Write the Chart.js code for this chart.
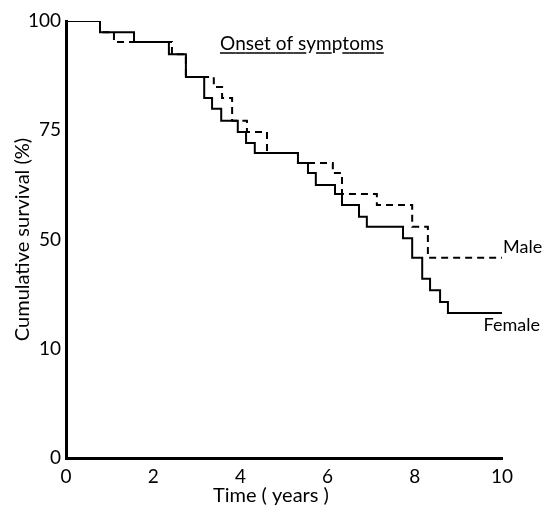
<!DOCTYPE html>
<html>
<head>
<meta charset="utf-8">
<script src="https://cdn.jsdelivr.net/npm/chart.js@4.4.1/dist/chart.umd.min.js"></script>
<style>
  html, body { margin: 0; padding: 0; background: #ffffff; }
  #wrap { width: 544px; height: 507px; }
</style>
</head>
<body>
<div id="wrap"><canvas id="km" width="544" height="507"></canvas></div>
<script>
// Kaplan-Meier steps: time of drop (years) and survival after the drop (%)
const femaleTimes = [0, 0.78, 1.56, 2.36, 2.75, 3.17, 3.35, 3.56, 3.94, 4.13, 4.33, 5.32, 5.55, 5.73, 6.17, 6.33, 6.72, 6.90, 7.73, 7.94, 8.17, 8.35, 8.58, 8.76, 10.05];
const femaleSurv  = [100, 97.4, 95.2, 92.4, 87.2, 82.4, 79.9, 77.2, 74.6, 72.1, 69.8, 67.5, 65.2, 62.5, 60.4, 57.9, 55.2, 52.9, 50.3, 45.8, 41.0, 38.4, 35.7, 33.2, 33.2];

const maleTimes = [0, 0.78, 1.10, 2.43, 2.75, 3.39, 3.58, 3.81, 4.15, 4.61, 5.32, 6.12, 6.33, 7.13, 7.94, 8.30, 10.0];
const maleSurv  = [100, 97.4, 95.2, 92.4, 87.2, 84.9, 82.4, 77.2, 74.6, 69.8, 67.5, 65.2, 60.4, 57.9, 52.9, 45.8, 45.8];

const xTickValues = [0, 2, 4, 6, 8, 10];
const xTickLabels = ['0', '2', '4', '6', '8', '10'];
const yTickValues = [0, 25, 50, 75, 100];
const yTickLabels = ['0', '10', '50', '75', '100'];   // as printed in the figure

const FONT = 'Lato, "DejaVu Sans", sans-serif';

function toPoints(xs, ys) {
    return xs.map((x, i) => ({ x: x, y: ys[i] }));
}

// Title, curve labels and x-axis caption
const annotations = {
    id: 'annotations',
    afterDraw(chart) {
        const ctx = chart.ctx;
        const xs = chart.scales.x;
        const ys = chart.scales.y;
        ctx.save();
        ctx.fillStyle = '#000';
        ctx.strokeStyle = '#000';
        ctx.font = '19px ' + FONT;
        ctx.textBaseline = 'alphabetic';

        // title with underline broken at descenders
        const title = 'Onset of symptoms';
        let tx = 220;
        const ty = 50;
        ctx.textAlign = 'left';
        ctx.lineWidth = 1.5;
        for (const ch of title) {
            const w = ctx.measureText(ch).width;
            ctx.fillText(ch, tx, ty);
            if (!'gjpqy'.includes(ch)) {
                ctx.beginPath();
                ctx.moveTo(tx, ty + 3);
                ctx.lineTo(tx + w, ty + 3);
                ctx.stroke();
            }
            tx += w;
        }

        // curve labels
        const mEnd = maleTimes.length - 1;
        const fEnd = femaleTimes.length - 1;
        ctx.font = '18px ' + FONT;
        ctx.textAlign = 'left';
        ctx.fillText('Male', xs.getPixelForValue(maleTimes[mEnd]) + 1, ys.getPixelForValue(maleSurv[mEnd]) - 5);
        ctx.textAlign = 'right';
        ctx.fillText('Female', 540, ys.getPixelForValue(femaleSurv[fEnd]) + 18);

        // x caption
        ctx.font = '20px ' + FONT;
        ctx.textAlign = 'center';
        ctx.fillText('Time ( years )', xs.getPixelForValue(4.7), 502);
        ctx.restore();
    }
};

const ctx = document.getElementById('km').getContext('2d');
new Chart(ctx, {
    type: 'line',
    data: {
        datasets: [
            {
                label: 'Female',
                data: toPoints(femaleTimes, femaleSurv),
                stepped: true,
                borderColor: '#000',
                borderWidth: 2,
                pointRadius: 0,
                fill: false
            },
            {
                label: 'Male',
                data: toPoints(maleTimes, maleSurv),
                stepped: true,
                borderColor: '#000',
                borderWidth: 2,
                borderDash: [7, 5],
                pointRadius: 0,
                fill: false
            }
        ]
    },
    options: {
        responsive: false,
        animation: false,
        layout: { padding: { top: 21, right: 42, left: 11, bottom: 0 } },
        plugins: {
            legend: { display: false },
            tooltip: { enabled: false }
        },
        scales: {
            x: {
                type: 'linear',
                min: 0,
                max: 10,
                afterBuildTicks: scale => { scale.ticks = xTickValues.map(v => ({ value: v })); },
                afterFit: scale => { scale.height = 49; },
                grid: { display: false, drawOnChartArea: false, drawTicks: true, tickLength: 5, color: '#000', lineWidth: 2 },
                border: { display: true, color: '#000', width: 3 },
                ticks: {
                    color: '#000',
                    font: { family: FONT, size: 19 },
                    padding: 2,
                    maxRotation: 0,
                    callback: (v) => xTickLabels[xTickValues.indexOf(v)]
                }
            },
            y: {
                type: 'linear',
                min: 0,
                max: 100,
                afterBuildTicks: scale => { scale.ticks = yTickValues.map(v => ({ value: v })); },
                afterFit: scale => { scale.width = 55; },
                grid: { display: false, drawOnChartArea: false, drawTicks: true, tickLength: 4, color: '#000', lineWidth: 2 },
                border: { display: true, color: '#000', width: 3 },
                title: {
                    display: true,
                    text: 'Cumulative survival (%)',
                    color: '#000',
                    font: { family: FONT, size: 20 },
                    padding: { top: 0, bottom: 0 }
                },
                ticks: {
                    color: '#000',
                    font: { family: FONT, size: 19 },
                    padding: 1,
                    callback: (v) => yTickLabels[yTickValues.indexOf(v)]
                }
            }
        }
    },
    plugins: [annotations]
});
</script>
</body>
</html>
